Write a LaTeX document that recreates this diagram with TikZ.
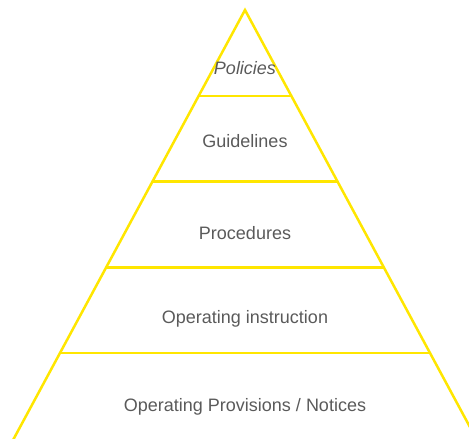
\documentclass[tikz,border=0pt]{standalone}
\usepackage{fontspec}
\setmainfont{Liberation Sans}
\usetikzlibrary{calc}
\definecolor{pyrline}{HTML}{FFE600}
\definecolor{pyrtext}{HTML}{5A5A5A}
\begin{document}
\begin{tikzpicture}[x=1pt,y=-1pt,
  edge/.style={draw=pyrline,line width=2.5pt},
  tier/.style={anchor=base,text=pyrtext,font=\fontsize{18}{20}\selectfont,inner sep=0pt}]
\useasboundingbox (0,0) rectangle (469,439);
\clip (0,0) rectangle (469,439);
% outline of the pyramid
\coordinate (apex) at (245,10);
\coordinate (bl) at (13.6,439);
\coordinate (br) at (476.4,439);
\draw[edge,line join=miter] ($(bl)!-0.02!(apex)$) -- (apex) -- ($(br)!-0.02!(apex)$);
% dividers between the five tiers
\foreach \t in {0.2,0.4,0.6,0.8}
  \draw[edge] ($(apex)!\t!(bl)$) -- ($(apex)!\t!(br)$);
% tier labels
\node[tier,font=\fontsize{18}{20}\selectfont\itshape] (policies) at (245,74) {Policies};
\node[tier] (guidelines) at (245,147.5) {Guidelines};
\node[tier] (procedures) at (245,239) {Procedures};
\node[tier] (instruction) at (245,323.5) {Operating instruction};
\node[tier] (provisions) at (245,411.5) {Operating Provisions / Notices};
\end{tikzpicture}
\end{document}
